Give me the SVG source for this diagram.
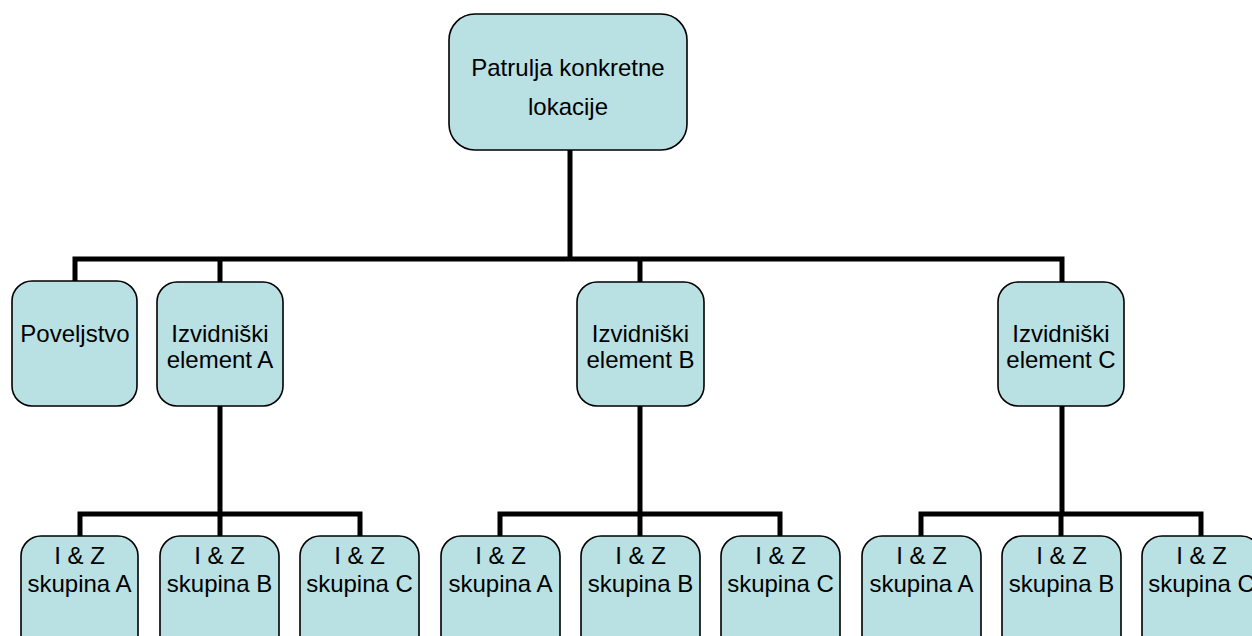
<svg xmlns="http://www.w3.org/2000/svg" width="1252" height="636" viewBox="0 0 1252 636">
<style>
.box{fill:#b9e0e3;stroke:#000;stroke-width:1.6}
.t{font-family:"Liberation Sans",Arial,sans-serif;font-size:24px;fill:#000;text-anchor:middle}
.c{fill:none;stroke:#000;stroke-width:5;stroke-linejoin:miter}
</style>
<rect width="1252" height="636" fill="#fff"/>
<g id="connectors">
<path class="c" d="M570 150V259"/>
<path class="c" d="M75 282V259H1062V282"/>
<path class="c" d="M220 259V282"/>
<path class="c" d="M640 259V282"/>
<path class="c" d="M220 406V514"/>
<path class="c" d="M640 406V514"/>
<path class="c" d="M1062 406V514"/>
<path class="c" d="M80 536V514H360V536"/>
<path class="c" d="M220 514V536"/>
<path class="c" d="M500 536V514H780V536"/>
<path class="c" d="M640 514V536"/>
<path class="c" d="M921 536V514H1201V536"/>
<path class="c" d="M1061 514V536"/>
</g>
<g id="top">
<rect class="box" x="449" y="14" width="238" height="136" rx="26"/>
<text class="t" x="568" y="76">Patrulja konkretne</text>
<text class="t" x="568" y="115">lokacije</text>
</g>
<g id="poveljstvo">
<rect class="box" x="12" y="281" width="125" height="125" rx="20"/>
<text class="t" x="75" y="342">Poveljstvo</text>
</g>
<g id="elemA">
<rect class="box" x="157" y="282" width="126" height="124" rx="20"/>
<text class="t" x="220" y="342">Izvidniški</text>
<text class="t" x="220" y="368">element A</text>
</g>
<g id="elemB">
<rect class="box" x="577" y="282" width="127" height="124" rx="20"/>
<text class="t" x="640.5" y="342">Izvidniški</text>
<text class="t" x="640.5" y="368">element B</text>
</g>
<g id="elemC">
<rect class="box" x="998" y="282" width="126" height="124" rx="20"/>
<text class="t" x="1061" y="342">Izvidniški</text>
<text class="t" x="1061" y="368">element C</text>
</g>
<g id="A1"><rect class="box" x="21" y="536" width="117" height="125" rx="20"/><text class="t" x="79.5" y="564">I &amp; Z</text><text class="t" x="79.5" y="592">skupina A</text></g>
<g id="A2"><rect class="box" x="160" y="536" width="119" height="125" rx="20"/><text class="t" x="219.5" y="564">I &amp; Z</text><text class="t" x="219.5" y="592">skupina B</text></g>
<g id="A3"><rect class="box" x="300" y="536" width="119" height="125" rx="20"/><text class="t" x="359.5" y="564">I &amp; Z</text><text class="t" x="359.5" y="592">skupina C</text></g>
<g id="B1"><rect class="box" x="441" y="536" width="119" height="125" rx="20"/><text class="t" x="500.5" y="564">I &amp; Z</text><text class="t" x="500.5" y="592">skupina A</text></g>
<g id="B2"><rect class="box" x="581" y="536" width="119" height="125" rx="20"/><text class="t" x="640.5" y="564">I &amp; Z</text><text class="t" x="640.5" y="592">skupina B</text></g>
<g id="B3"><rect class="box" x="721" y="536" width="119" height="125" rx="20"/><text class="t" x="780.5" y="564">I &amp; Z</text><text class="t" x="780.5" y="592">skupina C</text></g>
<g id="C1"><rect class="box" x="862" y="536" width="119" height="125" rx="20"/><text class="t" x="921.5" y="564">I &amp; Z</text><text class="t" x="921.5" y="592">skupina A</text></g>
<g id="C2"><rect class="box" x="1002" y="536" width="119" height="125" rx="20"/><text class="t" x="1061.5" y="564">I &amp; Z</text><text class="t" x="1061.5" y="592">skupina B</text></g>
<g id="C3"><rect class="box" x="1142" y="536" width="119" height="125" rx="20"/><text class="t" x="1201.5" y="564">I &amp; Z</text><text class="t" x="1201.5" y="592">skupina C</text></g>
</svg>
